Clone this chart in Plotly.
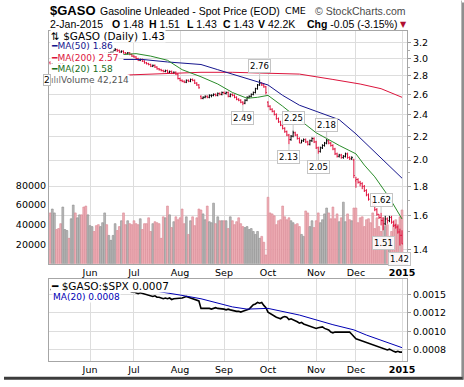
import math
import pandas as pd
import plotly.graph_objects as go

# ---------------- data ----------------
start_date = "2014-05-05"
end_date = "2015-01-02"
holidays = ["2014-05-26", "2014-07-04", "2014-09-01", "2014-11-27", "2014-12-25", "2015-01-01"]
dates = [d.strftime("%Y-%m-%d") for d in pd.bdate_range(start_date, end_date)
         if d.strftime("%Y-%m-%d") not in holidays]

opens = ([2.95, 2.94, 2.97, 2.99, 2.98, 2.95, 2.93, 2.96, 2.98, 3.00, 2.99, 3.01, 3.02, 3.00, 3.03, 3.05, 3.04, 3.02, 2.99]
         + [3.00, 3.01, 3.03, 3.02, 3.00, 2.99, 3.01, 3.04, 3.06, 3.05, 3.07, 3.08, 3.10, 3.11, 3.10, 3.08, 3.09, 3.07, 3.06, 3.07, 3.05]
         + [3.03, 3.02, 3.00, 2.98, 2.99, 2.97, 2.95, 2.94, 2.93, 2.91, 2.92, 2.90, 2.88, 2.87, 2.86, 2.85, 2.86, 2.84, 2.85, 2.83, 2.84, 2.82]
         + [2.77, 2.75, 2.74, 2.73, 2.75, 2.74, 2.76, 2.75, 2.72, 2.70, 2.58, 2.56, 2.57, 2.58, 2.57, 2.59, 2.59, 2.60, 2.59, 2.61, 2.60]
         + [2.62, 2.61, 2.62, 2.58, 2.60, 2.59, 2.57, 2.55, 2.54, 2.52, 2.51, 2.54, 2.57, 2.58, 2.60, 2.62, 2.66, 2.70, 2.72, 2.70, 2.68]
         + [2.52, 2.48, 2.45, 2.43, 2.40, 2.36, 2.33, 2.30, 2.27, 2.24, 2.21, 2.17, 2.20, 2.23, 2.21, 2.18, 2.14, 2.16, 2.17, 2.15, 2.13, 2.16, 2.18]
         + [2.15, 2.10, 2.07, 2.10, 2.12, 2.14, 2.16, 2.14, 2.12, 2.09, 2.05, 2.03, 2.04, 2.02, 2.03, 2.05, 2.02, 2.01, 2.00]
         + [1.84, 1.85, 1.83, 1.82, 1.80, 1.77, 1.74, 1.71, 1.69, 1.67, 1.64, 1.61, 1.59, 1.57, 1.55, 1.58, 1.57, 1.59, 1.56, 1.54, 1.53, 1.50]
         + [1.48])
highs = ([2.97, 2.98, 3.00, 3.00, 2.99, 2.96, 2.97, 2.99, 3.01, 3.01, 3.02, 3.03, 3.03, 3.04, 3.06, 3.06, 3.05, 3.03, 3.01]
         + [3.02, 3.04, 3.04, 3.03, 3.01, 3.02, 3.05, 3.07, 3.07, 3.08, 3.09, 3.11, 3.13, 3.12, 3.11, 3.10, 3.10, 3.08, 3.08, 3.08, 3.06]
         + [3.04, 3.03, 3.01, 3.00, 3.00, 2.98, 2.96, 2.95, 2.94, 2.93, 2.93, 2.91, 2.89, 2.88, 2.87, 2.87, 2.87, 2.86, 2.86, 2.85, 2.85, 2.83]
         + [2.78, 2.76, 2.75, 2.76, 2.76, 2.77, 2.77, 2.76, 2.73, 2.71, 2.59, 2.58, 2.59, 2.59, 2.60, 2.60, 2.61, 2.61, 2.62, 2.62, 2.63]
         + [2.63, 2.63, 2.63, 2.61, 2.61, 2.60, 2.58, 2.56, 2.55, 2.53, 2.55, 2.58, 2.59, 2.61, 2.63, 2.67, 2.71, 2.76, 2.73, 2.72, 2.69]
         + [2.53, 2.49, 2.46, 2.44, 2.41, 2.37, 2.34, 2.31, 2.28, 2.25, 2.22, 2.21, 2.25, 2.24, 2.22, 2.19, 2.17, 2.18, 2.18, 2.16, 2.17, 2.19, 2.19]
         + [2.16, 2.11, 2.11, 2.13, 2.15, 2.18, 2.17, 2.15, 2.13, 2.10, 2.06, 2.05, 2.05, 2.04, 2.06, 2.06, 2.03, 2.03, 2.01]
         + [1.87, 1.86, 1.84, 1.83, 1.81, 1.78, 1.75, 1.72, 1.70, 1.68, 1.65, 1.61, 1.62, 1.59, 1.60, 1.59, 1.60, 1.60, 1.57, 1.55, 1.54, 1.52]
         + [1.51])
lows = ([2.93, 2.93, 2.96, 2.97, 2.94, 2.92, 2.92, 2.95, 2.97, 2.98, 2.98, 3.00, 2.99, 2.99, 3.02, 3.03, 3.01, 2.98, 2.98]
        + [2.99, 3.00, 3.01, 2.99, 2.98, 2.98, 3.00, 3.03, 3.04, 3.04, 3.06, 3.07, 3.09, 3.08, 3.07, 3.07, 3.06, 3.05, 3.05, 3.04, 3.02]
        + [3.01, 2.99, 2.97, 2.97, 2.96, 2.94, 2.93, 2.92, 2.90, 2.90, 2.89, 2.87, 2.86, 2.85, 2.84, 2.84, 2.83, 2.83, 2.82, 2.82, 2.81, 2.76]
        + [2.74, 2.73, 2.72, 2.72, 2.73, 2.73, 2.74, 2.71, 2.69, 2.66, 2.55, 2.55, 2.56, 2.56, 2.56, 2.57, 2.58, 2.58, 2.58, 2.59, 2.59]
        + [2.60, 2.60, 2.57, 2.57, 2.58, 2.56, 2.54, 2.53, 2.51, 2.49, 2.50, 2.53, 2.56, 2.57, 2.59, 2.61, 2.65, 2.69, 2.69, 2.67, 2.60]
        + [2.47, 2.44, 2.42, 2.39, 2.35, 2.32, 2.29, 2.26, 2.23, 2.20, 2.13, 2.16, 2.19, 2.20, 2.17, 2.14, 2.14, 2.15, 2.14, 2.12, 2.12, 2.15, 2.14]
        + [2.09, 2.05, 2.06, 2.09, 2.11, 2.13, 2.13, 2.11, 2.08, 2.04, 2.02, 2.02, 2.01, 2.01, 2.02, 2.01, 2.00, 2.00, 1.86]
        + [1.79, 1.82, 1.80, 1.78, 1.76, 1.73, 1.70, 1.68, 1.66, 1.63, 1.60, 1.58, 1.54, 1.51, 1.54, 1.55, 1.56, 1.55, 1.53, 1.52, 1.49, 1.42]
        + [1.43])
closes = ([2.94, 2.97, 2.99, 2.98, 2.95, 2.93, 2.96, 2.98, 3.00, 2.99, 3.01, 3.02, 3.00, 3.03, 3.05, 3.04, 3.02, 2.99, 3.00]
          + [3.01, 3.03, 3.02, 3.00, 2.99, 3.01, 3.04, 3.06, 3.05, 3.07, 3.08, 3.10, 3.11, 3.10, 3.08, 3.09, 3.07, 3.06, 3.07, 3.05, 3.03]
          + [3.02, 3.00, 2.98, 2.99, 2.97, 2.95, 2.94, 2.93, 2.91, 2.92, 2.90, 2.88, 2.87, 2.86, 2.85, 2.86, 2.84, 2.85, 2.83, 2.84, 2.82, 2.77]
          + [2.75, 2.74, 2.73, 2.75, 2.74, 2.76, 2.75, 2.72, 2.70, 2.67, 2.56, 2.57, 2.58, 2.57, 2.59, 2.59, 2.60, 2.59, 2.61, 2.60, 2.62]
          + [2.61, 2.62, 2.58, 2.60, 2.59, 2.57, 2.55, 2.54, 2.52, 2.51, 2.54, 2.57, 2.58, 2.60, 2.62, 2.66, 2.70, 2.72, 2.70, 2.68, 2.62]
          + [2.48, 2.45, 2.43, 2.40, 2.36, 2.33, 2.30, 2.27, 2.24, 2.21, 2.17, 2.20, 2.23, 2.21, 2.18, 2.14, 2.16, 2.17, 2.15, 2.13, 2.16, 2.18, 2.15]
          + [2.10, 2.07, 2.10, 2.12, 2.14, 2.16, 2.14, 2.12, 2.09, 2.05, 2.03, 2.04, 2.02, 2.03, 2.05, 2.02, 2.01, 2.02, 1.88]
          + [1.85, 1.83, 1.82, 1.80, 1.77, 1.74, 1.71, 1.69, 1.67, 1.64, 1.61, 1.59, 1.57, 1.55, 1.58, 1.57, 1.59, 1.56, 1.54, 1.53, 1.50, 1.48]
          + [1.43])
volume_k = ([52, 56, 52, 35, 36, 41, 58, 35, 34, 26, 46, 60, 52, 47, 50, 50, 58, 59, 50]
            + [39, 38, 33, 39, 40, 38, 42, 52, 40, 29, 24, 29, 41, 34, 38, 44, 52, 40, 44, 41, 40]
            + [44, 41, 40, 46, 35, 41, 41, 47, 33, 41, 43, 42, 41, 26, 48, 47, 59, 50, 37, 43, 48, 45]
            + [47, 56, 41, 48, 30, 44, 48, 39, 47, 56, 55, 51, 45, 59, 43, 42, 62, 41, 48, 44, 44]
            + [44, 44, 36, 48, 44, 40, 43, 47, 41, 38, 37, 38, 35, 36, 33, 30, 33, 26, 28, 22, 9]
            + [68, 52, 51, 49, 40, 44, 45, 59, 48, 45, 47, 44, 42, 40, 41, 38, 30, 28, 54, 52, 38, 44, 37]
            + [44, 52, 42, 45, 51, 57, 52, 46, 58, 46, 51, 43, 47, 63, 43, 51, 45, 44, 57]
            + [57, 42, 47, 48, 38, 45, 46, 42, 52, 36, 47, 38, 33, 47, 38, 40, 28, 33, 40, 45, 40, 48]
            + [55])
ratio_e4 = ([15.6, 15.7, 15.8, 15.7, 15.6, 15.5, 15.6, 15.7, 15.8, 15.7, 15.8, 15.9, 15.8, 15.9, 16.0, 15.9, 15.8, 15.6, 15.7]
            + [15.7, 15.8, 15.7, 15.6, 15.5, 15.6, 15.8, 15.9, 15.8, 15.9, 16.0, 16.1, 16.1, 15.9, 15.7, 15.8, 15.6, 15.5, 15.6, 15.4, 15.3]
            + [15.3, 15.2, 15.1, 15.2, 15.1, 15.0, 14.9, 14.9, 14.8, 14.7, 14.8, 14.6, 14.6, 14.5, 14.4, 14.5, 14.4, 14.5, 14.3, 14.4, 14.4, 14.4]
            + [14.4, 14.5, 14.6, 14.7, 14.6, 14.5, 14.4, 14.3, 14.2, 14.1, 13.1, 13.1, 13.2, 13.1, 13.1, 13.0, 13.1, 13.2, 13.1, 13.1, 13.0]
            + [13.0, 12.9, 13.0, 12.9, 12.8, 12.8, 12.7, 12.7, 12.6, 12.7, 12.8, 12.9, 13.0, 13.3, 13.6, 13.7, 13.9, 13.8, 13.9, 13.5, 13.2]
            + [12.6, 12.4, 12.3, 12.1, 11.9, 11.8, 11.7, 11.9, 12.0, 11.9, 11.6, 11.7, 11.6, 11.5, 11.3, 11.1, 11.2, 11.0, 10.9, 10.8, 10.7, 10.6, 10.5]
            + [10.4, 10.5, 10.6, 10.6, 10.4, 10.3, 10.2, 9.9, 9.8, 9.9, 9.9, 10.0, 9.9, 9.9, 9.9, 10.0, 9.9, 9.6, 9.3]
            + [9.0, 8.9, 8.8, 8.7, 8.5, 8.4, 8.3, 8.3, 8.2, 8.1, 8.0, 7.9, 7.8, 7.7, 7.6, 7.5, 7.6, 7.4, 7.3, 7.2, 7.3, 7.2]
            + [7.2])

ma50_idx = [35, 44, 56, 72, 80, 87, 95, 104, 111, 119, 127, 138, 146, 153, 158, 162, 168]
ma50_val = [2.99, 2.99, 2.96, 2.93, 2.87, 2.82, 2.76, 2.70, 2.59, 2.49, 2.43, 2.35, 2.22, 2.10, 2.02, 1.95, 1.86]
ma200_idx = [37, 56, 72, 87, 104, 119, 135, 148, 158, 168]
ma200_val = [2.81, 2.83, 2.84, 2.84, 2.83, 2.82, 2.76, 2.71, 2.66, 2.57]
ma20_idx = [35, 41, 48, 56, 63, 72, 80, 87, 94, 99, 104, 111, 119, 127, 135, 138, 146, 150, 155, 162, 168]
ma20_val = [3.05, 3.06, 3.03, 2.98, 2.87, 2.79, 2.71, 2.62, 2.56, 2.57, 2.59, 2.48, 2.35, 2.23, 2.15, 2.12, 2.05, 1.96, 1.87, 1.72, 1.58]
rma_idx = [30, 40, 51, 62, 72, 87, 94, 104, 119, 135, 145, 151, 159, 168]
rma_val_e4 = [15.8, 15.6, 15.4, 14.9, 14.4, 13.3, 13.0, 13.1, 12.2, 10.9, 10.2, 9.5, 8.7, 7.8]

label_idx = [100, 92, 116, 114, 132, 128, 158, 159, 167]
label_kind = ["high", "low", "high", "low", "high", "low", "high", "low", "low"]

month_names = ["Jun", "Jul", "Aug", "Sep", "Oct", "Nov", "Dec", "<b>2015</b>"]
price_ticks = [1.4, 1.6, 1.8, 2.0, 2.2, 2.4, 2.6, 2.8, 3.0, 3.2]
vol_ticks = [20000, 40000, 60000, 80000]
ratio_ticks = [0.00075, 0.001, 0.00125, 0.0015]
ratio_tick_text = ["0.0008", "0.0010", "0.0012", "0.0015"]

header_date = "2-Jan-2015"
header_volume = "42.2K"
header_change = "-0.05 (-3.15%)"
legend_volume = "42,214"

# ---------------- derived ----------------
n = len(dates)
volume = [v * 1000 for v in volume_k]
ratio = [v * 1e-4 for v in ratio_e4]
prev_close = [opens[0]] + closes[:-1]
up = [closes[i] >= prev_close[i] for i in range(n)]

month_starts = []
for i, d in enumerate(dates):
    if i > 0 and d[:7] != dates[i - 1][:7]:
        month_starts.append(d)

NAVY = "#16168e"
RED = "#dc143c"
GREEN = "#2a8c2a"
BLUE2 = "#0000b4"
GRID = "#dddddd"
FRAME = "#a6a6a6"
FONT = "DejaVu Sans"

fig = go.Figure()

# volume (base axis of the top panel, so price draws above it)
fig.add_trace(go.Bar(
    x=dates, y=volume, width=0.86,
    marker=dict(color=["#bababa" if u else "#f0b2b9" for u in up],
                line=dict(color=["#8c8c8c" if u else "#d98590" for u in up], width=0.6)),
    xaxis="x", yaxis="y", hoverinfo="skip"))

# price bars, coloured by close vs previous close
for want, col in ((True, "black"), (False, "#e0103c")):
    ids = [i for i in range(n) if up[i] == want]
    fig.add_trace(go.Ohlc(
        x=[dates[i] for i in ids], open=[opens[i] for i in ids], high=[highs[i] for i in ids],
        low=[lows[i] for i in ids], close=[closes[i] for i in ids],
        increasing=dict(line=dict(color=col, width=1)), decreasing=dict(line=dict(color=col, width=1)),
        tickwidth=0.45, xaxis="x", yaxis="y3", hoverinfo="skip"))

for idx, val, col in ((ma200_idx, ma200_val, RED), (ma50_idx, ma50_val, NAVY), (ma20_idx, ma20_val, GREEN)):
    fig.add_trace(go.Scatter(x=[dates[i] for i in idx], y=val, mode="lines",
                             line=dict(color=col, width=1), xaxis="x", yaxis="y3", hoverinfo="skip"))

# ratio panel
fig.add_trace(go.Scatter(x=dates, y=ratio, mode="lines", line=dict(color="black", width=1.6),
                         xaxis="x2", yaxis="y2", hoverinfo="skip"))
fig.add_trace(go.Scatter(x=[dates[i] for i in rma_idx], y=[v * 1e-4 for v in rma_val_e4], mode="lines",
                         line=dict(color=BLUE2, width=1), xaxis="x2", yaxis="y2", hoverinfo="skip"))

# ---------------- layout ----------------
W, H = 464, 387
L, R, T, B = 49, 57, 31, 20
PW, PH = W - L - R, H - T - B


def px(xp):
    return (xp - L) / PW


def py(yp):
    return (H - B - yp) / PH


top_dom = [py(268), 1.0]
bot_dom = [0.0, py(284)]
xr = [-0.58, 170.38]

xcommon = dict(type="category", range=xr, tickvals=month_starts, ticktext=month_names,
               showgrid=True, gridcolor=GRID, gridwidth=1, showline=True, linecolor=FRAME, mirror=True,
               ticks="", tickfont=dict(family=FONT, size=9.5, color="black"), fixedrange=True)

fig.update_layout(
    width=W, height=H, margin=dict(l=L, r=R, t=T, b=B, pad=0),
    paper_bgcolor="white", plot_bgcolor="white", showlegend=False,
    font=dict(family=FONT, size=9.5, color="black"),
    bargap=0,
    xaxis=dict(xcommon, anchor="y", domain=[0, 1], rangeslider=dict(visible=False)),
    xaxis2=dict(xcommon, anchor="y2", domain=[0, 1], matches="x", rangeslider=dict(visible=False)),
    yaxis=dict(domain=top_dom, range=[0, 238000], side="left", tickvals=vol_ticks,
               ticktext=[str(v) for v in vol_ticks], showgrid=False, zeroline=False,
               showline=True, linecolor=FRAME, ticks="", tickfont=dict(family=FONT, size=9.5),
               anchor="x", fixedrange=True),
    yaxis3=dict(overlaying="y", side="right", type="log",
                range=[math.log10(1.321), math.log10(3.35)], tickvals=price_ticks,
                ticktext=["%.1f" % v for v in price_ticks], showgrid=True, gridcolor=GRID,
                showline=True, linecolor=FRAME, ticks="outside", ticklen=3, tickcolor="#999999",
                tickfont=dict(family=FONT, size=9.5), anchor="x", zeroline=False, fixedrange=True,
                minor=dict(tickvals=[1.5, 1.7, 1.9, 2.1, 2.3, 2.5, 2.7, 2.9, 3.1], ticks="outside",
                           ticklen=2, tickcolor="#aaaaaa", showgrid=False)),
    yaxis2=dict(domain=bot_dom, range=[0.0006, 0.0017], side="right", tickvals=ratio_ticks,
                ticktext=ratio_tick_text, showgrid=True, gridcolor=GRID, zeroline=False,
                showline=True, linecolor=FRAME, mirror=True, ticks="outside", ticklen=3,
                tickcolor="#999999", tickfont=dict(family=FONT, size=9.5), anchor="x2", fixedrange=True),
)

ann = []


def text_at(xp, yp, text, size=9.5, color="black", xanchor="left", family=FONT, bg=None, **kw):
    d = dict(x=px(xp), y=py(yp), xref="paper", yref="paper", text=text, showarrow=False,
             xanchor=xanchor, yanchor="middle", font=dict(family=family, size=size, color=color))
    if bg:
        d.update(bgcolor=bg, borderpad=0)
    d.update(kw)
    ann.append(d)


# header
last = n - 1
text_at(48, 10, "<b>$GASO</b>", size=13, family="Liberation Sans")
text_at(97.5, 10.5, "Gasoline Unleaded - Spot Price (EOD)", size=10.5, family="Liberation Sans")
text_at(283, 10.5, "CME", size=9.5, family=FONT)
text_at(408, 10.5, "© StockCharts.com", size=10.5, family="Liberation Sans", color="#4a4a4a", xanchor="right")
hdr = [(48, header_date),
       (110, "<b>O</b> %.2f" % opens[last]),
       (147, "<b>H</b> %.2f" % highs[last]),
       (185, "<b>L</b> %.2f" % lows[last]),
       (221, "<b>C</b> %.2f" % closes[last]),
       (256, "<b>V</b> " + header_volume),
       (305, "<b>Chg</b> " + header_change)]
for xp, t in hdr:
    text_at(xp, 24, t, size=10.5, family="Liberation Sans")
text_at(403, 24.5, "▼", size=8, color="#b01030", xanchor="center")

# top legend rows
text_at(50, 36, "⇅ $GASO (Daily) %.2f" % closes[last], size=10.5, bg="white")
text_at(50, 46.5, "━MA(50) %.2f" % ma50_val[-1], size=9, color=NAVY, bg="white")
text_at(50, 58, "━MA(200) %.2f" % ma200_val[-1], size=9, color=RED, bg="white")
text_at(50, 69.5, "━MA(20) %.2f" % ma20_val[-1], size=9, color="#1a6e1a", bg="white")
text_at(50, 81, "<span style='color:#777'>ılıl</span>Volume " + legend_volume, size=9, color="#555555", bg="white")
text_at(46.5, 81, "2", size=9, xanchor="center", bg="white", bordercolor="#bbbbbb", borderwidth=1)

# bottom legend rows
text_at(50, 290.5, "━ $GASO:$SPX %.4f" % ratio[-1], size=10.5, bg="white")
text_at(52, 302, "MA(20) %.4f" % (rma_val_e4[-1] * 1e-4), size=9, color=BLUE2, bg="white")

# high / low labels tied to bars
for i, kind in zip(label_idx, label_kind):
    v = highs[i] if kind == "high" else lows[i]
    ann.append(dict(x=dates[i], y=math.log10(v), xref="x", yref="y3", text="%.2f" % v,
                    showarrow=True, arrowhead=0, arrowwidth=1, arrowcolor="#c8c8c8",
                    ax=0, ay=-13 if kind == "high" else 13, standoff=0,
                    bgcolor="rgba(255,255,255,0.9)", bordercolor="#c4c4c4", borderwidth=1, borderpad=1,
                    font=dict(family=FONT, size=8.5, color="black")))

fig.update_layout(annotations=ann)

# outer frame / shadow
shapes = [
    dict(type="line", xref="paper", yref="paper", x0=px(461.5), x1=px(461.5), y0=py(0), y1=py(383),
         line=dict(color="#b8b8b8", width=1)),
    dict(type="line", xref="paper", yref="paper", x0=px(4), x1=px(463), y0=py(384.5), y1=py(384.5),
         line=dict(color="#3c3c3c", width=3)),
    dict(type="line", xref="paper", yref="paper", x0=px(463), x1=px(463), y0=py(2), y1=py(386),
         line=dict(color="#6a6a6a", width=1.5)),
]
fig.update_layout(shapes=shapes)

fig.write_html("out.html", config={"displayModeBar": False, "staticPlot": True},
               post_script="document.body.style.margin='0px';document.body.style.overflow='hidden';")
